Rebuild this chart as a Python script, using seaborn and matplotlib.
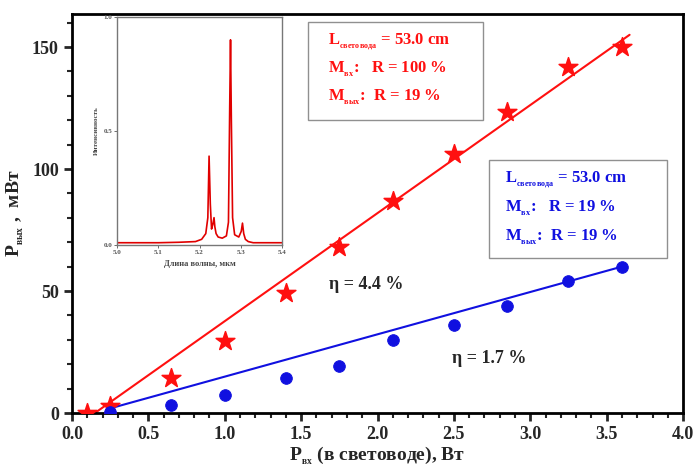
import numpy as np
import pandas as pd
import matplotlib
matplotlib.use("Agg")
import matplotlib.pyplot as plt
from matplotlib.patches import Rectangle
from matplotlib.ticker import MultipleLocator
import seaborn as sns

# measured points (input power W, output power mW)
star_x = [0.1, 0.25, 0.65, 1.0, 1.4, 1.75, 2.1, 2.5, 2.85, 3.25, 3.6]
star_y = [0.0, 3.0, 14.3, 29.5, 49.0, 68.0, 87.0, 106.0, 123.5, 142.0, 150.0]
dot_x = [0.25, 0.65, 1.0, 1.4, 1.75, 2.1, 2.5, 2.85, 3.25, 3.6]
dot_y = [0.5, 3.3, 7.4, 14.3, 19.3, 30.0, 36.0, 44.0, 54.0, 60.0]

# fitted lines (end points)
red_fit_x = [0.15, 3.65]
red_fit_y = [0.0, 155.0]
blue_fit_x = [0.25, 3.6]
blue_fit_y = [1.9, 60.0]

# inset spectrum
wl = [5.00, 5.05, 5.10, 5.15, 5.19, 5.205, 5.215, 5.22, 5.223, 5.226,
      5.229, 5.232, 5.235, 5.237, 5.240, 5.245, 5.255, 5.265, 5.270, 5.273,
      5.275, 5.277, 5.280, 5.285, 5.295, 5.301, 5.304, 5.307, 5.311, 5.318,
      5.33, 5.35, 5.40]
inten = [0.01, 0.01, 0.01, 0.012, 0.015, 0.025, 0.05, 0.12, 0.39, 0.18,
         0.07, 0.09, 0.12, 0.08, 0.05, 0.035, 0.03, 0.04, 0.10, 0.60,
         0.90, 0.55, 0.12, 0.045, 0.035, 0.06, 0.096, 0.05, 0.025, 0.015,
         0.01, 0.01, 0.01]

red_box = ["L$_{{}_{\\mathrm{световода}}}$ = 53.0 cm",
           "M$_{{}_{\\mathrm{вх}}}$:   R = 100 %",
           "M$_{{}_{\\mathrm{вых}}}$:  R = 19 %"]
blue_box = ["L$_{{}_{\\mathrm{световода}}}$ = 53.0 cm",
            "M$_{{}_{\\mathrm{вх}}}$:   R = 19 %",
            "M$_{{}_{\\mathrm{вых}}}$:  R = 19 %"]

sns.set_style("ticks")
plt.rcParams["font.family"] = ["Liberation Serif", "DejaVu Serif"]
plt.rcParams["font.weight"] = "bold"
plt.rcParams["mathtext.fontset"] = "custom"
plt.rcParams["mathtext.rm"] = "Liberation Serif:bold"
plt.rcParams["mathtext.it"] = "Liberation Serif:bold:italic"
plt.rcParams["mathtext.bf"] = "Liberation Serif:bold"

RED = "#ff1010"
BLUE = "#1010e0"

fig = plt.figure(figsize=(6.97, 4.69), dpi=100)
ax = fig.add_axes([0.1033, 0.1194, 0.8767, 0.8506])

df_s = pd.DataFrame({"x": star_x, "y": star_y})
df_d = pd.DataFrame({"x": dot_x, "y": dot_y})
sns.lineplot(x=red_fit_x, y=red_fit_y, color=RED, lw=1.5, ax=ax)
sns.lineplot(x=blue_fit_x, y=blue_fit_y, color=BLUE, lw=1.5, ax=ax)
sns.scatterplot(data=df_s, x="x", y="y", marker="*", s=200, color=RED, edgecolor=RED, ax=ax, zorder=3)
sns.scatterplot(data=df_d, x="x", y="y", marker="o", s=70, color=BLUE, edgecolor=BLUE, ax=ax, zorder=3)

ax.set_xlim(0, 4.0)
ax.set_ylim(0, 163.5)
ax.xaxis.set_major_locator(MultipleLocator(0.5))
ax.xaxis.set_minor_locator(MultipleLocator(0.1))
ax.yaxis.set_major_locator(MultipleLocator(50))
ax.yaxis.set_minor_locator(MultipleLocator(10))
ax.tick_params(which="major", direction="out", length=6, width=2, labelsize=13)
ax.tick_params(which="minor", direction="out", length=3.5, width=1.5)
for lab in ax.get_xticklabels() + ax.get_yticklabels():
    lab.set_fontweight("bold")
for sp in ax.spines.values():
    sp.set_linewidth(2)
    sp.set_color("black")
ax.set_xlabel("P$_{{}_{\\mathrm{вх}}}$ (в световоде), Вт", fontsize=14, fontweight="bold", labelpad=1)
ax.set_ylabel("P$_{{}_{\\mathrm{вых}}}$ ,  мВт", fontsize=14, fontweight="bold", labelpad=4)

ax.text(1.68, 52.5, "η = 4.4 %", fontsize=13, fontweight="bold", va="center")
ax.text(2.49, 22.5, "η = 1.7 %", fontsize=13, fontweight="bold", va="center")

# info boxes
fig.add_artist(Rectangle((0.442, 0.744), 0.251, 0.209, transform=fig.transFigure,
                         fill=False, edgecolor="#909090", lw=1))
fig.add_artist(Rectangle((0.7016, 0.450), 0.2554, 0.209, transform=fig.transFigure,
                         fill=False, edgecolor="#909090", lw=1))
for i, t in enumerate(red_box):
    fig.text(328 / 697, 1 - (42 + 27.5 * i) / 469, t, color=RED, fontsize=12,
             fontweight="bold", va="center")
for i, t in enumerate(blue_box):
    fig.text(505 / 697, 1 - (180 + 28.5 * i) / 469, t, color=BLUE, fontsize=12,
             fontweight="bold", va="center")

# inset spectrum
axin = fig.add_axes([0.168, 0.4776, 0.2367, 0.486])
sns.lineplot(x=wl, y=inten, color="#e00000", lw=1.2, ax=axin)
axin.set_xlim(5.0, 5.4)
axin.set_ylim(0, 1.0)
axin.set_xticks([5.0, 5.1, 5.2, 5.3, 5.4])
axin.set_yticks([0.0, 0.5, 1.0])
axin.tick_params(labelsize=5, length=2, width=0.6, pad=1.5, colors="#555555")
for lab in axin.get_xticklabels() + axin.get_yticklabels():
    lab.set_fontweight("bold")
for sp in axin.spines.values():
    sp.set_color("#777777")
    sp.set_linewidth(1)
axin.set_xlabel("Длина волны, мкм", fontsize=6, fontweight="bold", labelpad=4, color="#444444")
axin.set_ylabel("Интенсивность", fontsize=5, fontweight="bold", labelpad=3, color="#444444")

fig.savefig("out.png", dpi=100)
